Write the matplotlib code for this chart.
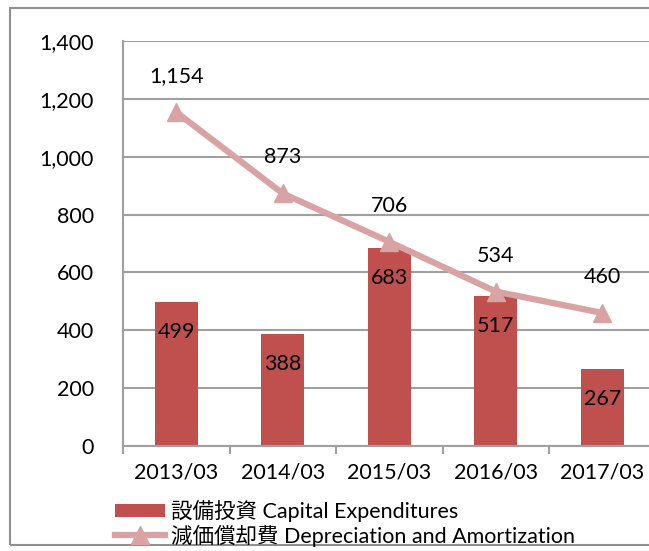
import numpy as np
import matplotlib.pyplot as plt
from matplotlib.patches import Rectangle
from matplotlib.ticker import FuncFormatter

plt.rcParams['font.family'] = ['Lato', 'Noto Sans CJK JP']
plt.rcParams['font.size'] = 15.5

# データ
years = ['2013/03', '2014/03', '2015/03', '2016/03', '2017/03']
capex = [499, 388, 683, 517, 267]
depreciation = [1154, 873, 706, 534, 460]

bar_color = '#C0504D'
line_color = '#D9A3A3'
grid_color = '#A0A0A0'

fig = plt.figure(figsize=(6.49, 5.51), dpi=100)
ax = fig.add_axes([123/649, 105/551, 532.5/649, 405/551])

x = np.arange(len(years))
bars = ax.bar(x, capex, width=0.4, color=bar_color, zorder=2,
              label='設備投資 Capital Expenditures')
line, = ax.plot(x, depreciation, color=line_color, lw=4.5, marker='^', ms=13,
                zorder=3, label='減価償却費 Depreciation and Amortization')

# ラベル
for xi, v in zip(x, capex):
    ax.annotate(f'{v:,}', (xi, v), xytext=(0, -30), textcoords='offset pixels',
                ha='center', va='center', zorder=4)
for xi, v in zip(x, depreciation):
    ax.annotate(f'{v:,}', (xi, v), xytext=(0, 36), textcoords='offset pixels',
                ha='center', va='center', zorder=4)

ax.set_xlim(-0.5, 4.5)
ax.set_ylim(0, 1400)
ax.set_yticks(np.arange(0, 1401, 200))
ax.yaxis.set_major_formatter(FuncFormatter(lambda v, p: f'{int(v):,}'))
ax.yaxis.grid(True, color=grid_color, lw=1.5, zorder=1)
ax.tick_params(axis='y', length=0, pad=21)

ax.set_xticks(x)
ax.set_xticklabels(years)
ax.set_xticks(np.arange(-0.5, 5, 1), minor=True)
ax.tick_params(axis='x', which='major', length=0, pad=12)
ax.tick_params(axis='x', which='minor', length=6, width=1.5, color=grid_color, direction='out')

for s in ['top', 'right']:
    ax.spines[s].set_visible(False)
for s in ['left', 'bottom']:
    ax.spines[s].set_color(grid_color)
    ax.spines[s].set_linewidth(1.5)

# 外枠
fig.patches.append(Rectangle((10/649, 6/551), 1.0, 537/551, transform=fig.transFigure,
                             fill=False, edgecolor='#909090', lw=1.5))

fig.legend(handles=[bars, line], loc='upper left', bbox_to_anchor=(115/649, 51/551),
           frameon=False, handlelength=2.3, handletextpad=0.3, labelspacing=0.12,
           borderaxespad=0, borderpad=0, handleheight=0.6)

fig.savefig('out.png', dpi=100)
